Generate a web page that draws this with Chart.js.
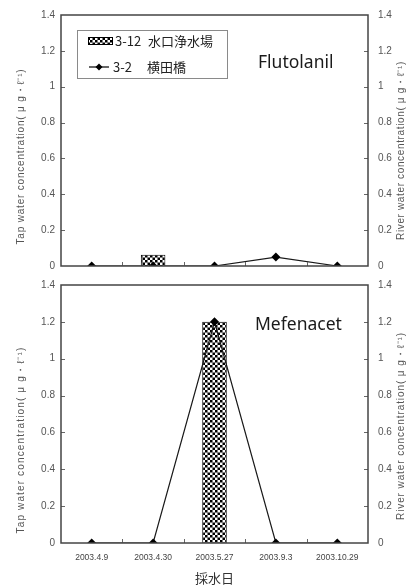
<!DOCTYPE html>
<html><head><meta charset="utf-8">
<script src="https://cdn.jsdelivr.net/npm/chart.js@4/dist/chart.umd.min.js"></script>
<style>
html,body{margin:0;padding:0;background:#fff;}
#wrap{position:relative;width:408px;height:586px;overflow:hidden;}
.box{position:absolute;left:0;width:408px;}
</style></head><body>
<div id="wrap">
<div class="box" style="top:0;height:275px"><canvas id="c1" width="408" height="275"></canvas></div>
<div class="box" style="top:275px;height:311px"><canvas id="c2" width="408" height="311"></canvas></div>
</div>
<script>
// ---- data ----
const categories = ['2003.4.9', '2003.4.30', '2003.5.27', '2003.9.3', '2003.10.29'];
const flutolanilTap = [0, 0.063, 0, 0, 0];
const flutolanilRiver = [0, 0, 0, 0.05, 0];
const mefenacetTap = [0, 0, 1.2, 0, 0];
const mefenacetRiver = [0, 0, 1.2, 0, 0];
const yMin = 0, yMax = 1.4, yStep = 0.2;
const legendCodes = ['3-12', '3-2'];
const legendNames = ['水口浄水場', '横田橋'];
const chartTitles = ['Flutolanil', 'Mefenacet'];
const xTitle = '採水日';
const leftTitle = 'Tap water concentration( μ g・ℓ⁻¹)';
const rightTitle = 'River water concentration( μ g・ℓ⁻¹)';

// ---- checker pattern ----
function makePattern(ctx) {
  const c = document.createElement('canvas');
  c.width = 10; c.height = 10;
  const p = c.getContext('2d');
  p.fillStyle = '#fff'; p.fillRect(0, 0, 10, 10);
  p.fillStyle = '#000';
  p.fillRect(0, 0, 5, 5); p.fillRect(5, 5, 5, 5);
  const pat = ctx.createPattern(c, 'repeat');
  pat.setTransform(new DOMMatrix().scale(0.5));
  return pat;
}

function rotText(ctx, text, x, y, target) {
  ctx.save();
  ctx.translate(x, y); ctx.rotate(-Math.PI / 2);
  ctx.letterSpacing = '0px';
  const w = ctx.measureText(text).width;
  const ls = Math.max(0, (target - w) / text.length);
  ctx.letterSpacing = ls.toFixed(2) + 'px';
  ctx.fillText(text, 0, 0);
  ctx.restore();
}

const decor = {
  id: 'decor',
  afterDraw(chart, args, o) {
    const ctx = chart.ctx, a = chart.chartArea;
    const ys = chart.scales.y, xs = chart.scales.x;
    ctx.save();
    // inward tick marks
    ctx.strokeStyle = '#666'; ctx.lineWidth = 1;
    ctx.beginPath();
    for (let v = yMin + yStep; v < yMax - 1e-9; v += yStep) {
      const py = Math.round(ys.getPixelForValue(v)) + 0.5;
      ctx.moveTo(a.left, py); ctx.lineTo(a.left + 4, py);
      ctx.moveTo(a.right - 4, py); ctx.lineTo(a.right, py);
    }
    for (let i = 1; i < categories.length; i++) {
      const px = Math.round((xs.getPixelForTick(i - 1) + xs.getPixelForTick(i)) / 2) + 0.5;
      ctx.moveTo(px, a.bottom); ctx.lineTo(px, a.bottom - 4);
    }
    ctx.stroke();
    // frame
    ctx.strokeStyle = '#444'; ctx.lineWidth = 1.5;
    ctx.strokeRect(a.left, a.top, a.right - a.left, a.bottom - a.top);
    // chart title
    ctx.fillStyle = '#1a1a1a';
    ctx.font = '17.5px "Noto Sans"';
    ctx.textBaseline = 'middle'; ctx.textAlign = 'left';
    ctx.fillText(o.title, o.tx, o.ty);
    // axis titles
    ctx.font = '10px "Liberation Sans"';
    ctx.fillStyle = '#555'; ctx.textAlign = 'center';
    const cy = (a.top + a.bottom) / 2;
    rotText(ctx, leftTitle, o.lx, cy + o.ldy, o.lw);
    rotText(ctx, rightTitle, o.rx, cy + o.rdy, o.rw);
    // legend
    if (o.legend) {
      ctx.fillStyle = '#fff'; ctx.fillRect(77, 30, 150, 48);
      ctx.strokeStyle = '#8a8a8a'; ctx.lineWidth = 1;
      ctx.strokeRect(77.5, 30.5, 150, 48);
      ctx.fillStyle = makePattern(ctx);
      ctx.fillRect(88, 37, 25, 8);
      ctx.strokeStyle = '#000'; ctx.strokeRect(88.5, 37.5, 24, 7);
      ctx.beginPath(); ctx.moveTo(89, 67); ctx.lineTo(109, 67); ctx.lineWidth = 1.2; ctx.stroke();
      ctx.fillStyle = '#000';
      ctx.beginPath(); ctx.moveTo(99, 63.5); ctx.lineTo(102.5, 67); ctx.lineTo(99, 70.5); ctx.lineTo(95.5, 67); ctx.closePath(); ctx.fill();
      ctx.fillStyle = '#222'; ctx.textAlign = 'left';
      ctx.font = '13px "Noto Sans CJK JP"';
      ctx.fillText(legendCodes[0], 115, 41);
      ctx.fillText(legendNames[0], 148, 41);
      ctx.fillText(legendCodes[1], 113, 67);
      ctx.fillText(legendNames[1], 147, 67);
    }
    ctx.restore();
  }
};

function makeChart(id, tap, river, opts) {
  const ctx = document.getElementById(id).getContext('2d');
  const pattern = makePattern(ctx);
  const fmt = v => String(Number(Number(v).toFixed(1)));
  return new Chart(ctx, {
    data: {
      labels: categories,
      datasets: [
        { type: 'line', data: river, yAxisID: 'y2', order: 0,
          borderColor: '#1a1a1a', borderWidth: 1.2, tension: 0,
          pointStyle: 'rectRot', pointRadius: 4.5, pointBackgroundColor: '#000', pointBorderColor: '#000', pointBorderWidth: 0 },
        { type: 'bar', data: tap, yAxisID: 'y', order: 1,
          backgroundColor: pattern, borderColor: '#000', borderWidth: 1, borderSkipped: 'bottom',
          barPercentage: 0.4, categoryPercentage: 1 }
      ]
    },
    options: {
      responsive: false, animation: false, devicePixelRatio: 1,
      layout: { padding: { top: opts.padTop, left: 0, right: 0, bottom: 0 } },
      plugins: { legend: { display: false }, tooltip: { enabled: false }, decor: opts.decor },
      scales: {
        x: {
          offset: true,
          grid: { display: false, drawTicks: false },
          border: { display: false },
          ticks: { display: opts.showX, padding: 10, color: '#444', font: { family: 'Liberation Sans', size: 8.5 } },
          title: { display: opts.showX, text: xTitle, color: '#333', padding: { top: 0, bottom: 0 }, font: { family: 'Noto Sans CJK JP', size: 13 } },
          afterFit(s) { s.height = opts.xH; }
        },
        y: {
          position: 'left', min: yMin, max: yMax,
          ticks: { stepSize: yStep, padding: 0, color: '#555', font: { family: 'Liberation Sans', size: 10 }, callback: fmt },
          grid: { display: false, drawTicks: true, tickLength: 6 },
          border: { display: false },
          afterFit(s) { s.width = 61; }
        },
        y2: {
          position: 'right', min: yMin, max: yMax,
          ticks: { stepSize: yStep, padding: 0, color: '#555', font: { family: 'Liberation Sans', size: 10 }, callback: fmt },
          grid: { display: false, drawTicks: true, tickLength: 10 },
          border: { display: false },
          afterFit(s) { s.width = 40; }
        }
      }
    },
    plugins: [decor]
  });
}

makeChart('c1', flutolanilTap, flutolanilRiver, {
  padTop: 15, xH: 9, showX: false,
  decor: { title: chartTitles[0], tx: 258, ty: 63, lx: 21, ldy: 16, lw: 176, rx: 401, rdy: 10, rw: 179, legend: true }
});
makeChart('c2', mefenacetTap, mefenacetRiver, {
  padTop: 10, xH: 43, showX: true,
  decor: { title: chartTitles[1], tx: 255, ty: 50, lx: 21, ldy: 26, lw: 187, rx: 401, rdy: 12, rw: 188, legend: false }
});
</script>
</body></html>
